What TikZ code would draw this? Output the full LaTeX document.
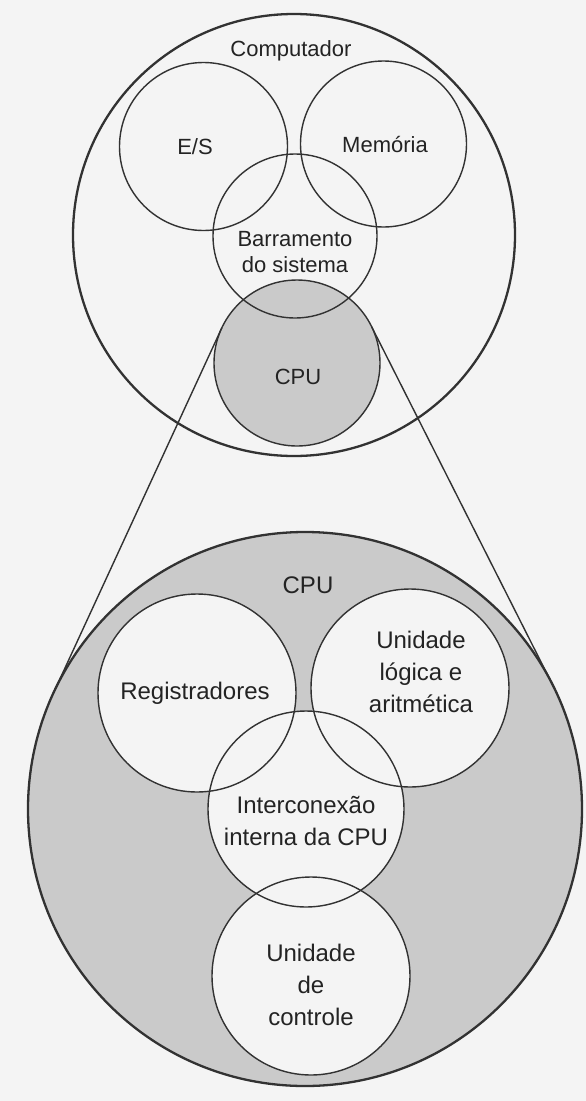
\documentclass[tikz,border=0pt]{standalone}
\usepackage{fontspec}
\setmainfont{Liberation Sans}
\definecolor{ink}{RGB}{50,50,50}
\definecolor{textink}{RGB}{35,35,35}
\definecolor{paper}{RGB}{244,244,244}
\definecolor{cpugray}{RGB}{202,202,202}
\tikzset{
  ring/.style={circle, draw=ink, line width=1.4pt, inner sep=0pt, outer sep=0pt},
  bigring/.style={ring, line width=2.3pt},
  lbl/.style={text=textink, align=center, inner sep=0pt, font=\fontsize{22}{26}\selectfont},
  lblb/.style={lbl, font=\fontsize{24}{32}\selectfont},
  zoomline/.style={draw=ink, line width=1.4pt},
}
\begin{document}
\begin{tikzpicture}[x=1pt,y=-1pt]
\fill[paper] (0,0) rectangle (586,1101);
\useasboundingbox (0,0) rectangle (586,1101);
% --- Computador ---
\node[bigring, minimum size=442pt] (comp) at (294,235) {};
\node[ring, fill=cpugray, minimum size=166pt] (cpu) at (297,363) {};
\node[ring, minimum size=168pt] (es) at (203.5,146.5) {};
\node[ring, minimum size=166pt] (mem) at (383.5,144) {};
\node[ring, minimum size=164pt] (bus) at (295,236) {};
% --- CPU (detail) ---
\node[bigring, fill=cpugray, minimum size=554pt] (cpubig) at (305,809) {};
\draw[zoomline] (cpu.155.25) -- (cpubig.155.25);
\draw[zoomline] (cpu.26.8) -- (cpubig.26.8);
\fill[paper] (197,693) circle (99pt);
\fill[paper] (410,688) circle (99pt);
\fill[paper] (306,809) circle (98pt);
\fill[paper] (311,976) circle (99pt);
\node[ring, minimum size=198pt] (reg) at (197,693) {};
\node[ring, minimum size=198pt] (ula) at (410,688) {};
\node[ring, minimum size=196pt] (icx) at (306,809) {};
\node[ring, minimum size=198pt] (uc) at (311,976) {};
% --- labels ---
\node[lbl] (tcomp) at (291,51) {Computador};
\node[lbl] (tes) at (195,147) {E/S};
\node[lbl] (tmem) at (385,145) {Memória};
\node[lbl] (tbus) at (295,252) {Barramento\\do sistema};
\node[lbl] (tcpu) at (298,377) {CPU};
\node[lblb] (tcpub) at (308,585) {CPU};
\node[lblb] (treg) at (195,693) {Registradores};
\node[lblb] (tula) at (421,672) {Unidade\\lógica e\\aritmética};
\node[lblb] (ticx) at (306,821) {Interconexão\\interna da CPU};
\node[lblb] (tuc) at (311,985) {Unidade\\de\\controle};
\end{tikzpicture}
\end{document}
